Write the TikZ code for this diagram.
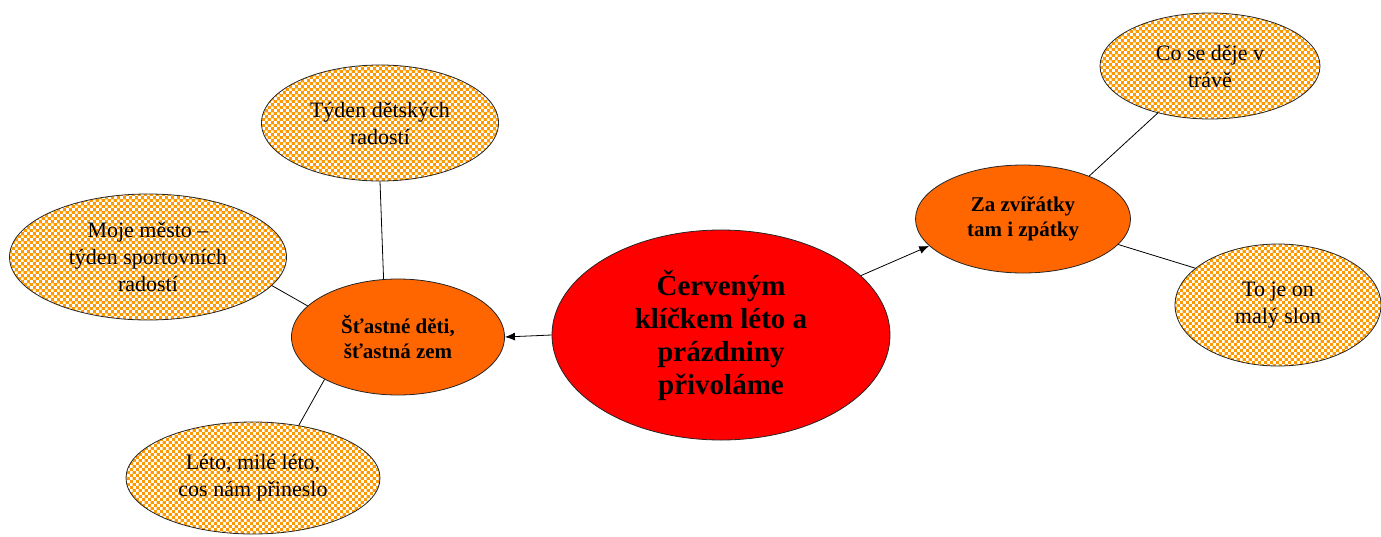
\documentclass[tikz,border=0pt]{standalone}
\usepackage{fontspec}
\setmainfont{Liberation Serif}
\usetikzlibrary{shapes.geometric,arrows.meta,patterns.meta}
\definecolor{cred}{HTML}{FF0000}
\definecolor{corange}{HTML}{FF6600}
\definecolor{cchk}{HTML}{FF9900}

% orange/white checkerboard for the outer ellipses
\pgfdeclarepattern{name=chk,type=uncolored,
  bottom left={\pgfpoint{0pt}{0pt}},top right={\pgfpoint{6.4pt}{6.4pt}},
  tile size={\pgfpoint{6.4pt}{6.4pt}},
  code={\pgfpathrectangle{\pgfpoint{0.15pt}{0.15pt}}{\pgfpoint{2.9pt}{2.9pt}}
        \pgfpathrectangle{\pgfpoint{3.35pt}{3.35pt}}{\pgfpoint{2.9pt}{2.9pt}}
        \pgfusepath{fill}}}

\begin{document}
\begin{tikzpicture}[x=1pt,y=-1pt,>={Latex[length=10pt,width=8pt]},line width=0.8pt]
  \tikzstyle{hub}=[ellipse,draw=black!85,align=center,inner sep=0pt,font=\fontsize{21}{25}\selectfont\bfseries]
  \tikzstyle{leaf}=[ellipse,draw=black!85,preaction={fill=cchk},pattern=chk,pattern color=white,align=center,inner sep=0pt,font=\fontsize{22}{27}\selectfont]
  \useasboundingbox (0,0) rectangle (1381,536);

  % main topic
  \node[hub,fill=cred,minimum width=338pt,minimum height=210pt,font=\fontsize{29}{33}\selectfont\bfseries] (main) at (721,335) {Červeným\\klíčkem léto a\\prázdniny\\přivoláme};
  % left branch
  \node[hub,fill=corange,minimum width=213pt,minimum height=116pt] (stastne) at (398,337) {Šťastné děti,\\šťastná zem};
  \node[leaf,minimum width=237pt,minimum height=116pt] (tyden) at (380,123) {Týden dětských\\radostí};
  \node[leaf,minimum width=277pt,minimum height=126pt] (moje) at (148,257) {Moje město –\\týden sportovních\\radostí};
  \node[leaf,minimum width=254pt,minimum height=112pt] (leto) at (253,478) {Léto, milé léto,\\cos nám přineslo};
  % right branch
  \node[hub,fill=corange,minimum width=215pt,minimum height=108pt] (zvir) at (1023,219) {Za zvířátky\\tam i zpátky};
  \node[leaf,minimum width=220pt,minimum height=106pt] (trava) at (1210,66) {Co se děje v\\trávě};
  \node[leaf,minimum width=206pt,minimum height=122pt] (slon) at (1278,305) {To je on\\malý slon};

  \draw[->] (main.west) -- (stastne.east);
  \draw[->] (main.23) -- (zvir.196);
  \draw (stastne.104) -- (tyden.south);
  \draw (stastne.161) -- (moje.-13);
  \draw (stastne.210) -- (leto.49);
  \draw (zvir.33) -- (trava.222);
  \draw (zvir.-15) -- (slon.156);
\end{tikzpicture}
\end{document}
